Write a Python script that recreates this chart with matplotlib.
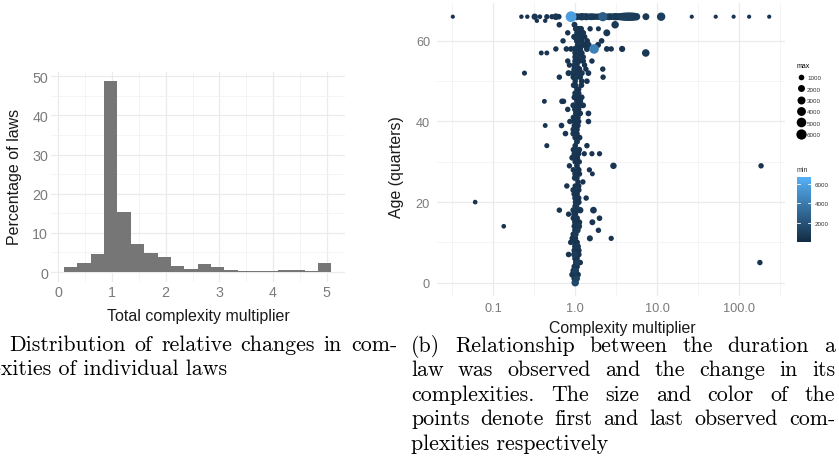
import numpy as np
import matplotlib
matplotlib.use('Agg')
import matplotlib.pyplot as plt
from matplotlib.colors import LinearSegmentedColormap, Normalize
from matplotlib.lines import Line2D
from matplotlib.ticker import NullFormatter

W, H = 839, 477

# (a) histogram of total complexity multipliers (percent of laws per bin)
bin_start = 0.106
bin_width = 0.249
pct_laws = [1.4, 2.4, 4.7, 48.7, 15.3, 7.2, 4.9, 3.9, 1.6, 0.8,
            2.0, 1.3, 0.6, 0.35, 0.35, 0.35, 0.6, 0.6, 0.35, 2.4]

# (b) complexity multiplier vs age, one entry per law
cx_mult = [
    0.032, 0.22, 0.26, 0.32, 0.37, 0.45, 0.52, 0.58, 0.63, 1.05, 1.12,   # 66
    1.2, 1.28, 1.36, 1.45, 1.55, 1.65, 1.75, 1.85, 1.95, 2.05, 2.3,
    2.45, 2.6, 2.75, 2.9, 3.07, 3.25, 3.45, 3.65, 3.85, 4.1, 4.35,
    4.6, 4.9, 5.2, 5.6, 7.3, 11.2, 26.5, 52, 86, 133, 234,
    0.34, 0.43,                                  # 65
    0.64, 0.98, 3.07,                            # 64
    1.1, 1.52, 1.92,                             # 63
    0.81, 1.06, 1.15, 1.25, 2.43,                # 62
    1.0, 1.12, 1.3,                              # 61
    0.71, 1.05, 1.2, 1.4, 2.1,                   # 60
    1.08, 1.25, 1.45, 1.9,                       # 59
    0.58, 0.78, 0.89, 1.0, 1.15, 1.39, 2.43, 2.75, 3.74,   # 58
    0.385, 0.45, 1.05, 1.2, 7.27,                # 57
    1.0, 1.1, 1.25,                              # 56
    0.81, 1.0, 1.12, 1.6,                        # 55
    0.85, 1.05, 1.3,                             # 54
    0.98, 1.12, 1.35, 2.17,                      # 53
    0.24, 0.83, 0.95, 1.05, 1.2, 1.45,           # 52
    0.64, 0.95, 1.15, 2.19,                      # 51
    1.0, 1.39,                                   # 50
    1.0, 1.19,                                   # 49
    1.05,                                        # 48
    1.0, 1.1,                                    # 47
    0.98, 1.1, 1.2,                              # 46
    0.42, 0.69, 0.72, 1.05, 1.15,                # 45
    0.95, 1.08, 1.25,                            # 44
    0.81, 1.0, 1.1,                              # 43
    1.02, 1.15, 1.45,                            # 42
    0.95, 1.05,                                  # 41
    0.86, 0.98, 1.1, 1.45,                       # 40
    0.43, 0.68, 0.98, 1.08,                      # 39
    0.95, 1.05,                                  # 38
    0.76, 0.95, 1.05,                            # 37
    1.0, 1.1,                                    # 36
    1.05,                                        # 35
    0.45, 1.0, 1.39,                             # 34
    0.95, 1.12,                                  # 33
    0.98, 1.1, 1.29, 1.6, 1.98,                  # 32
    0.92, 1.05,                                  # 31
    1.0, 1.12,                                   # 30
    0.85, 1.05, 2.93, 186,                       # 29
    0.95, 1.1, 1.49,                             # 28
    1.0, 1.12, 1.62,                             # 27
    1.05,                                        # 26
    1.08, 1.24,                                  # 25
    0.79, 1.0,                                   # 24
    0.95, 1.1,                                   # 23
    0.98, 1.05,                                  # 22
    1.0, 1.1, 1.36,                              # 21
    0.06, 1.02, 1.1,                             # 20
    1.0,                                         # 19
    0.64, 0.95, 1.05, 1.15, 1.67,                # 18
    0.83, 1.0,                                   # 17
    0.95, 1.05, 1.98,                            # 16
    1.0, 1.12, 1.62,                             # 15
    0.134, 0.98, 1.1,                            # 14
    1.0, 1.05, 1.92,                             # 13
    0.95, 1.0,                                   # 12
    0.92, 1.0, 1.51, 2.75,                       # 11
    0.88, 0.98, 1.05,                            # 10
    1.0, 1.08,                                   # 9
    0.98, 1.1,                                   # 8
    0.83, 0.98, 1.1,                             # 7
    1.0, 1.05,                                   # 6
    1.02, 1.15, 180,                             # 5
    0.98, 1.05,                                  # 4
    0.95, 1.02,                                  # 3
    0.92, 1.0, 1.08,                             # 2
    0.98, 1.05,                                  # 1
    1.0,                                         # 0
    1.02, 1.18, 0.97, 1.22, 1.08, 1.3, 1.0, 1.15, 1.05, 1.25, 0.98, 1.12,   # column extras
    1.03, 1.2, 0.96, 1.1, 1.04, 1.16, 1.0, 1.08, 0.97, 1.13, 1.02, 1.06,
    0.99, 1.1, 1.03, 0.97, 1.07, 1.01, 1.04, 0.98, 1.06, 1.0, 1.03,
    2.17, 1.70, 0.89,                            # light points drawn last
]

age_q = [
    66, 66, 66, 66, 66, 66, 66, 66, 66, 66, 66,
    66, 66, 66, 66, 66, 66, 66, 66, 66, 66, 66,
    66, 66, 66, 66, 66, 66, 66, 66, 66, 66, 66,
    66, 66, 66, 66, 66, 66, 66, 66, 66, 66, 66,
    65, 65,
    64, 64, 64,
    63, 63, 63,
    62, 62, 62, 62, 62,
    61, 61, 61,
    60, 60, 60, 60, 60,
    59, 59, 59, 59,
    58, 58, 58, 58, 58, 58, 58, 58, 58,
    57, 57, 57, 57, 57,
    56, 56, 56,
    55, 55, 55, 55,
    54, 54, 54,
    53, 53, 53, 53,
    52, 52, 52, 52, 52, 52,
    51, 51, 51, 51,
    50, 50,
    49, 49,
    48,
    47, 47,
    46, 46, 46,
    45, 45, 45, 45, 45,
    44, 44, 44,
    43, 43, 43,
    42, 42, 42,
    41, 41,
    40, 40, 40, 40,
    39, 39, 39, 39,
    38, 38,
    37, 37, 37,
    36, 36,
    35,
    34, 34, 34,
    33, 33,
    32, 32, 32, 32, 32,
    31, 31,
    30, 30,
    29, 29, 29, 29,
    28, 28, 28,
    27, 27, 27,
    26,
    25, 25,
    24, 24,
    23, 23,
    22, 22,
    21, 21, 21,
    20, 20, 20,
    19,
    18, 18, 18, 18, 18,
    17, 17,
    16, 16, 16,
    15, 15, 15,
    14, 14, 14,
    13, 13, 13,
    12, 12,
    11, 11, 11, 11,
    10, 10, 10,
    9, 9,
    8, 8,
    7, 7, 7,
    6, 6,
    5, 5, 5,
    4, 4,
    3, 3,
    2, 2, 2,
    1, 1,
    0,
    63, 63, 61, 61, 60, 59, 57, 57, 56, 55, 54, 53,
    51, 50, 49, 48, 47, 44, 43, 41, 38, 36, 33, 31,
    26, 24, 19, 17, 13, 12, 9, 7, 5, 3, 1,
    66, 58, 66,
]

cx_max = [
    300, 400, 400, 1500, 500, 800, 800, 1800, 1000, 2000, 1500,
    2500, 1800, 2200, 1500, 2000, 1800, 1500, 1400, 1600, 1500, 1800,
    1500, 2000, 1800, 1600, 2500, 2000, 2200, 2500, 3000, 3500, 3500,
    3800, 3500, 3200, 2500, 2000, 3500, 300, 300, 300, 300, 300,
    400, 400,
    1000, 1200, 2500,
    1200, 900, 700,
    900, 1400, 1000, 1200, 2000,
    1500, 1300, 1100,
    900, 1300, 1200, 1000, 1000,
    1400, 1200, 1500, 1200,
    900, 1000, 1100, 1500, 1200, 1300, 1100, 900, 1400,
    600, 600, 1300, 1200, 2600,
    1200, 1500, 1000,
    900, 1300, 1100, 900,
    900, 1000, 900,
    1500, 1200, 900, 900,
    700, 1300, 1800, 1600, 1300, 1100,
    900, 1200, 1000, 900,
    900, 1000,
    1300, 1100,
    1000,
    1200, 1100,
    1300, 1000, 1100,
    600, 1000, 900, 1100, 1200,
    1300, 1200, 1100,
    900, 1100, 1000,
    1200, 1100, 1100,
    1000, 1300,
    900, 1100, 1000, 1000,
    600, 1000, 1200, 1000,
    1200, 1100,
    1000, 1300, 1000,
    1100, 1200,
    1300,
    700, 1000, 900,
    1000, 1100,
    1300, 1000, 800, 800, 800,
    1200, 1100,
    1000, 900,
    900, 1100, 1600, 900,
    1000, 1200, 800,
    1300, 1200, 600,
    900,
    900, 900,
    900, 900,
    1300, 1200,
    1400, 1200,
    1300, 1100, 900,
    500, 1600, 1300,
    1100,
    900, 1300, 1800, 1600, 1800,
    900, 1200,
    1100, 1300, 1000,
    1500, 1200, 1200,
    500, 1300, 2000,
    1400, 1200, 900,
    1200, 1100,
    1000, 1200, 1300, 800,
    900, 1300, 1200,
    1500, 1200,
    1400, 1300,
    1000, 1500, 1300,
    1300, 1100,
    1200, 1000, 900,
    1300, 1200,
    1200, 1400,
    1300, 1500, 1200,
    1400, 1200,
    2500,
    1300, 1100, 1200, 1000, 1300, 1100, 1200, 1000, 1300, 1100, 1200, 1000,
    1300, 1100, 1200, 1000, 1300, 1100, 1200, 1000, 1300, 1100, 1200, 1000,
    1300, 1100, 1400, 1200, 1300, 1400, 1200, 1500, 1300, 1400, 1600,
    4500, 5000, 6800,
]

cx_min = [
    500, 500, 500, 600, 500, 500, 500, 700, 500, 900, 700,
    800, 700, 900, 600, 800, 700, 700, 600, 700, 600, 700,
    700, 800, 700, 700, 900, 700, 800, 900, 900, 1000, 1000,
    1100, 1000, 900, 800, 700, 1000, 500, 500, 500, 500, 500,
    500, 500,
    500, 600, 700,
    600, 500, 500,
    500, 600, 500, 600, 600,
    600, 600, 500,
    500, 600, 500, 500, 500,
    600, 500, 600, 500,
    500, 500, 500, 600, 500, 600, 500, 500, 500,
    500, 500, 600, 500, 700,
    500, 600, 500,
    500, 600, 500, 500,
    500, 500, 500,
    600, 500, 500, 500,
    500, 600, 700, 600, 600, 500,
    500, 500, 500, 500,
    500, 500,
    600, 500,
    500,
    500, 500,
    600, 500, 500,
    500, 500, 500, 500, 500,
    600, 500, 500,
    500, 500, 500,
    500, 500, 500,
    500, 600,
    500, 500, 500, 500,
    500, 500, 500, 500,
    500, 500,
    500, 600, 500,
    500, 500,
    600,
    500, 500, 500,
    500, 500,
    600, 500, 500, 500, 500,
    500, 500,
    500, 500,
    500, 500, 600, 500,
    500, 500, 500,
    600, 500, 500,
    500,
    500, 500,
    500, 500,
    600, 500,
    600, 500,
    600, 500, 500,
    500, 600, 500,
    500,
    500, 600, 700, 600, 600,
    500, 500,
    500, 600, 500,
    600, 500, 500,
    500, 600, 700,
    600, 500, 500,
    500, 500,
    500, 500, 600, 500,
    500, 600, 500,
    600, 500,
    600, 500,
    500, 600, 500,
    600, 500,
    500, 500, 500,
    600, 500,
    500, 600,
    600, 600, 500,
    600, 500,
    1500,
    600, 500, 600, 500, 600, 500, 600, 500, 600, 500, 600, 500,
    600, 500, 600, 500, 600, 500, 600, 500, 600, 500, 600, 500,
    600, 500, 700, 600, 700, 800, 700, 800, 900, 1000, 1200,
    2600, 4300, 5800,
]

size_legend = [1000, 2000, 3000, 4000, 5000, 6000]
color_ticks = [2000, 4000, 6000]

assert len(cx_mult) == len(age_q) == len(cx_max) == len(cx_min)

plt.rcParams['font.family'] = ['Liberation Sans', 'DejaVu Sans']


def fx(px):
    return px / W


def fy(py):
    return 1 - py / H


def dot_px(v):
    # area-style size scale, diameter in pixels
    return 2.4 + 8.4 * np.sqrt(np.asarray(v, dtype=float) / 6800)


def style_axes(ax, tick_size):
    for s in ax.spines.values():
        s.set_visible(False)
    ax.tick_params(which='both', length=0, colors='#7a7a7a', labelsize=tick_size)
    ax.grid(which='major', color='#EBEBEB', lw=0.9)
    ax.grid(which='minor', color='#F3F3F3', lw=0.6)
    ax.set_axisbelow(True)
    ax.set_facecolor('white')


fig = plt.figure(figsize=(W / 100, H / 100), dpi=100)

# ---- (a) histogram
ax1 = fig.add_axes([fx(50.8), fy(283), (345 - 50.8) / W, (283 - 73) / H])
edges = bin_start + bin_width * np.arange(len(pct_laws) + 1)
ax1.bar(edges[:-1], pct_laws, width=bin_width, align='edge', color='#767676', lw=0)
ax1.set_xlim(-0.14, 5.34)
ax1.set_ylim(-2.55, 51.1)
ax1.set_xticks([0, 1, 2, 3, 4, 5])
ax1.set_xticks([0.5, 1.5, 2.5, 3.5, 4.5], minor=True)
ax1.set_yticks([0, 10, 20, 30, 40, 50])
ax1.set_yticks([5, 15, 25, 35, 45], minor=True)
style_axes(ax1, 10.3)
ax1.tick_params(axis='x', pad=2)
ax1.tick_params(axis='y', pad=2)
fig.text(fx(15), fy(177), 'Percentage of laws', rotation=90, ha='center', va='center',
         fontsize=11.5, color='#1a1a1a')
fig.text(fx(198), fy(316), 'Total complexity multiplier', ha='center', va='center',
         fontsize=11.5, color='#1a1a1a')

# ---- (b) scatter
ax2 = fig.add_axes([fx(437), fy(297), (785 - 437) / W, (297 - 4.4) / H])
cmap = LinearSegmentedColormap.from_list('gg', ['#132B43', '#56B1F7'])
norm = Normalize(0, 6750)
sc = ax2.scatter(cx_mult, age_q, s=(dot_px(cx_max) * 0.72) ** 2, c=cx_min,
                 cmap=cmap, norm=norm, linewidths=0, zorder=3)
ax2.set_xscale('log')
ax2.set_xlim(10 ** -1.688, 10 ** 2.562)
ax2.set_ylim(-3.3, 69.3)
ax2.set_xticks([0.1, 1, 10, 100])
ax2.set_xticklabels(['0.1', '1.0', '10.0', '100.0'])
ax2.set_xticks([10 ** -1.5, 10 ** -0.5, 10 ** 0.5, 10 ** 1.5, 10 ** 2.5], minor=True)
ax2.xaxis.set_minor_formatter(NullFormatter())
ax2.set_yticks([0, 20, 40, 60])
ax2.set_yticks([10, 30, 50], minor=True)
style_axes(ax2, 9.2)
ax2.tick_params(axis='x', pad=4)
ax2.tick_params(axis='y', pad=5)
fig.text(fx(397), fy(167), 'Age (quarters)', rotation=90, ha='center', va='center',
         fontsize=11.4, color='#1a1a1a')
fig.text(fx(622), fy(328), 'Complexity multiplier', ha='center', va='center',
         fontsize=11.4, color='#1a1a1a')

# size legend
handles = [Line2D([], [], ls='none', marker='o', color='black', mec='none',
                  markersize=float(dot_px(v)) * 0.72) for v in size_legend]
leg = fig.legend(handles, [str(v) for v in size_legend], title='max', loc='upper left',
                 bbox_to_anchor=(fx(797), fy(63)), frameon=False, fontsize=4.5,
                 title_fontsize=5, labelspacing=0.95, handlelength=1.2,
                 handletextpad=0.4, borderpad=0, borderaxespad=0, alignment='left')
for t in leg.get_texts():
    t.set_color('#333333')

# colour bar
cax = fig.add_axes([fx(797), fy(243), 14 / W, 65 / H])
cb = fig.colorbar(sc, cax=cax, ticks=color_ticks)
cb.outline.set_visible(False)
cax.tick_params(length=0, labelsize=4.5, pad=2.5, colors='#333333')
for v in color_ticks:
    cax.axhline(v, xmin=0, xmax=0.2, color='white', lw=0.6)
    cax.axhline(v, xmin=0.8, xmax=1, color='white', lw=0.6)
fig.text(fx(797), fy(171), 'min', fontsize=5, va='center', ha='left', color='#333333')

# ---- captions, justified like LaTeX
cap_kw = dict(fontfamily='cmr10', fontsize=15.8, va='baseline', ha='left', color='black')
renderer = fig.canvas.get_renderer()


def caption(lines, x0, width, base0, step):
    for i, line in enumerate(lines):
        yb = fy(base0 + i * step)
        if i == len(lines) - 1:
            fig.text(fx(x0), yb, line, **cap_kw)
            continue
        words = line.split(' ')
        txts = [fig.text(0, yb, w, **cap_kw) for w in words]
        ws = [t.get_window_extent(renderer).width for t in txts]
        gap = (width - sum(ws)) / (len(words) - 1)
        x = x0
        for t, w in zip(txts, ws):
            t.set_x(fx(x))
            x += w + gap


caption(['(a) Distribution of relative changes in com-',
         'plexities of individual laws'], -27, 424, 351, 24.4)
caption(['(b) Relationship between the duration a',
         'law was observed and the change in its',
         'complexities. The size and color of the',
         'points denote first and last observed com-',
         'plexities respectively'], 411, 424, 352, 24.4)

fig.savefig('out.png', dpi=100)
